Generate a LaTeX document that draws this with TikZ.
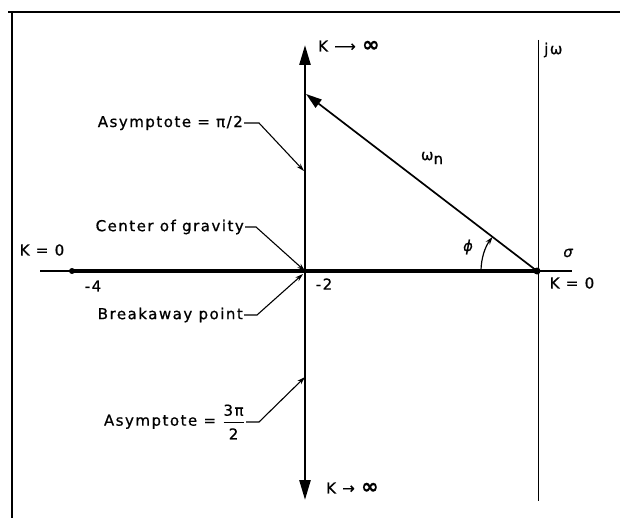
\documentclass[tikz,border=0pt]{standalone}
\usepackage{fontspec}
\setmainfont{DejaVu Sans}[LetterSpace=10,FakeBold=0.8]
\usetikzlibrary{arrows.meta,calc}
\newcommand{\biginf}{{\fontsize{21}{21}\selectfont\bfseries ∞}}
\tikzset{
  lbl/.style={inner sep=1pt,font=\fontsize{15}{17}\selectfont},
  frameline/.style={line width=1.3pt},
  axisline/.style={line width=1.6pt},
  jwline/.style={line width=1pt},
  locus/.style={line width=3.4pt},
  branch/.style={line width=2.6pt,-{Triangle[length=20pt,width=11pt]}},
  radvec/.style={line width=1.7pt,-{Triangle[length=16pt,width=10pt]}},
  leader/.style={line width=1.1pt,-{Stealth[length=8pt,width=5pt]}},
  pole/.style={circle,fill,inner sep=0pt,minimum size=7pt}
}

\begin{document}
\begin{tikzpicture}[x=1pt,y=-1pt]
  \useasboundingbox (0,0) rectangle (620,518);
  % frame
  \draw[frameline,line width=2pt] (8,12) -- (620,12);
  \draw[frameline] (12,12) -- (12,518);
  % s-plane
  \coordinate (axl) at (40,271);
  \coordinate (axr) at (572,271);
  \coordinate (cg) at (305,271);
  \coordinate (uptip) at (305,45);
  \coordinate (dntip) at (305,500);
  \coordinate (jwtop) at (538,40);
  \coordinate (jwbot) at (538,501);
  \coordinate (wtip) at (306,94);
  \node[pole,minimum size=6pt] (pm4) at (72,271) {};
  \node[pole] (p0) at (537,271) {};
  \draw[axisline] (axl) -- (axr);
  \draw[locus] (pm4.center) -- (p0.center);
  \draw[jwline] (jwtop) -- (jwbot);
  \draw[branch] (cg) -- (uptip);
  \draw[branch] (cg) -- (dntip);
  \draw[radvec] (p0.center) -- (wtip);
  \draw[leader,line width=1.2pt] ($(p0.center)+(180:56)$) arc[start angle=180,end angle=217.5,radius=56];
  % labels
  \node[lbl,anchor=west] (kinfup) at (317,46) {K ⟶ \biginf};
  \node[lbl,anchor=west] (jw) at (543,50) {jω};
  \node[lbl] (wn) at (432,158) {ω\raisebox{-4pt}{n}};
  \node[lbl] (phi) at (468,247) {\itshape ϕ};
  \node[lbl] (sig) at (568,253) {\itshape σ};
  \node[lbl] (k0r) at (572,283) {K = 0};
  \node[lbl] (k0l) at (42,250) {K = 0};
  \node[lbl] (m4) at (93,286) {-4};
  \node[lbl] (m2) at (324,284) {-2};
  \node[lbl,anchor=west] (kinfdn) at (325,488) {K → \biginf};
  % leaders
  \coordinate (asy1pt) at (304,171);
  \coordinate (cgpt) at (305,271);
  \coordinate (brkpt) at (303,274);
  \coordinate (asy3pt) at (305,377);
  \node[lbl,anchor=east] (asy1) at (244,123) {Asymptote = π/2};
  \node[lbl,anchor=east] (cog) at (245,227) {Center of gravity};
  \node[lbl,anchor=east] (brk) at (244,315) {Breakaway point};
  \node[lbl,anchor=east] (asy3) at (246,422) {Asymptote = $\displaystyle\frac{\mbox{3π}\rule[-5pt]{0pt}{5pt}}{\rule{0pt}{16pt}\mbox{2}}$};
  \draw[leader] (asy1.east) -- ++(15,0) -- (asy1pt);
  \draw[leader] (cog.east) -- ++(11,0) -- (cgpt);
  \draw[leader] (brk.east) -- ++(13,0) -- (brkpt);
  \draw[leader] (asy3.east) -- ++(13,0) -- (asy3pt);
\end{tikzpicture}
\end{document}
